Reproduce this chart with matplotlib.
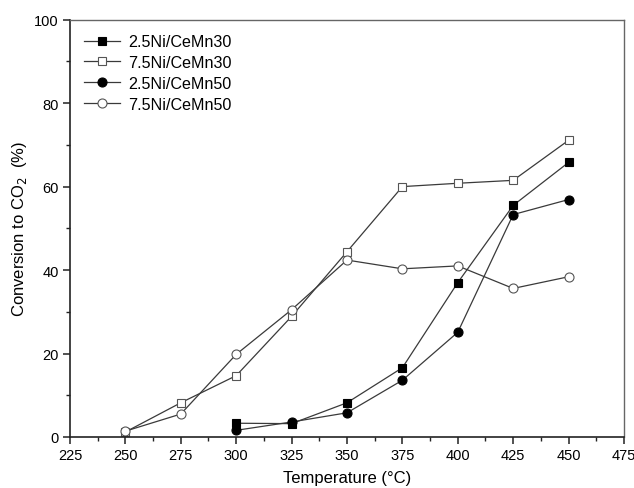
import numpy as np
import matplotlib.pyplot as plt
from matplotlib.ticker import MultipleLocator

plt.rcParams['font.family'] = ['Liberation Sans', 'DejaVu Sans']

# conversion data (%) vs temperature (deg C)
temp_all = [250, 275, 300, 325, 350, 375, 400, 425, 450]
temp_hi = [300, 325, 350, 375, 400, 425, 450]

ni25_mn30 = [3.3, 3.2, 8.2, 16.6, 37.0, 55.5, 65.8]
ni75_mn30 = [1.2, 8.2, 14.7, 28.9, 44.4, 60.0, 60.8, 61.5, 71.1]
ni25_mn50 = [1.6, 3.6, 5.8, 13.6, 25.1, 53.3, 56.9]
ni75_mn50 = [1.4, 5.5, 19.8, 30.5, 42.4, 40.3, 41.0, 35.6, 38.4]

labels = ['2.5Ni/CeMn30', '7.5Ni/CeMn30', '2.5Ni/CeMn50', '7.5Ni/CeMn50']

fig = plt.figure(figsize=(6.34, 4.89), dpi=100)
ax = fig.add_axes([0.1104, 0.1043, 0.8738, 0.8534])

lc = '#3a3a3a'
kw = dict(color=lc, lw=0.9, markeredgecolor='black', markeredgewidth=0.8)
ax.plot(temp_hi, ni25_mn30, marker='s', ms=6, markerfacecolor='black', label=labels[0], **kw)
ax.plot(temp_all, ni75_mn30, marker='s', ms=6, markerfacecolor='white', label=labels[1],
        color=lc, lw=0.9, markeredgecolor='#555555', markeredgewidth=0.8)
ax.plot(temp_hi, ni25_mn50, marker='o', ms=6.5, markerfacecolor='black', label=labels[2], **kw)
ax.plot(temp_all, ni75_mn50, marker='o', ms=6.5, markerfacecolor='white', label=labels[3],
        color=lc, lw=0.9, markeredgecolor='#555555', markeredgewidth=0.8)

ax.set_xlim(225, 475)
ax.set_ylim(0, 100)
ax.xaxis.set_major_locator(MultipleLocator(25))
ax.xaxis.set_minor_locator(MultipleLocator(12.5))
ax.yaxis.set_major_locator(MultipleLocator(20))
ax.yaxis.set_minor_locator(MultipleLocator(10))

for side in ['left', 'bottom']:
    ax.spines[side].set_color('#222222')
    ax.spines[side].set_linewidth(1.2)
for side in ['top', 'right']:
    ax.spines[side].set_color('#666666')
    ax.spines[side].set_linewidth(1.0)

ax.tick_params(which='both', direction='out', top=False, right=False, color='#222222')
ax.tick_params(which='major', length=5, width=1.1, labelsize=10.5, pad=3)
ax.tick_params(which='minor', length=3, width=1.0)

ax.set_xlabel('Temperature (°C)', fontsize=12, labelpad=6)
ax.set_ylabel('Conversion to CO$_2$  (%)', fontsize=12, labelpad=4)

ax.legend(loc='upper left', frameon=False, fontsize=11.6, handlelength=2.2,
          handletextpad=0.5, labelspacing=0.36, borderaxespad=0.5,
          bbox_to_anchor=(0.0, 1.0))

fig.savefig('out.png', dpi=100)
